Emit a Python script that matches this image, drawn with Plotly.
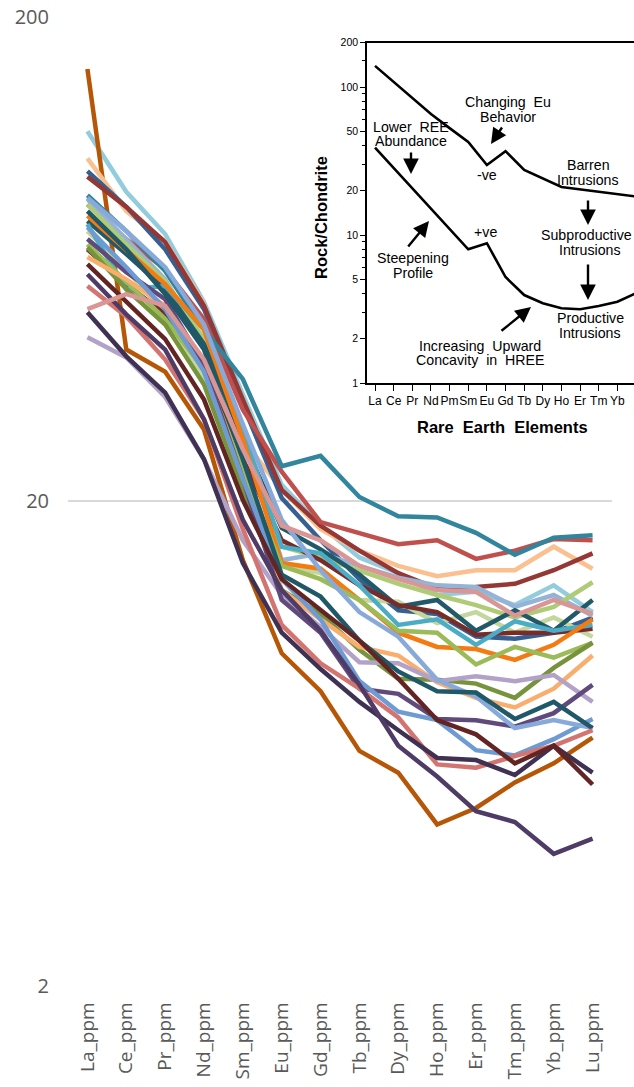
import plotly.graph_objects as go

W, H = 634, 1087

# ---------------- main chart data (ppm) ----------------
elements = ["La_ppm", "Ce_ppm", "Pr_ppm", "Nd_ppm", "Sm_ppm", "Eu_ppm", "Gd_ppm",
            "Tb_ppm", "Dy_ppm", "Ho_ppm", "Er_ppm", "Tm_ppm", "Yb_ppm", "Lu_ppm"]

s02 = [116, 87, 71.2, 51.5, 33.2, 21.6, 17.8, 15.3, 14.2, 12.8, 13.0, 12.2, 13.4, 11.8]
s01 = [156, 41.1, 37.0, 28.1, 15.1, 9.7, 8.1, 6.1, 5.5, 4.3, 4.65, 5.25, 5.75, 6.5]
s03 = [102, 79.4, 68.8, 51.0, 26.8, 21.1, 17.5, 15.8, 14.7, 14.0, 14.4, 14.4, 16.1, 14.5]
s04 = [96, 81, 66.2, 49.8, 31.6, 20.3, 16.6, 13.8, 11.9, 11.7, 10.5, 10.4, 10.7, 11.5]
s05 = [93.5, 81, 68.5, 50.6, 32.4, 21.1, 17.8, 15.8, 14.2, 13.2, 13.3, 13.5, 14.4, 15.6]
s06 = [82, 69.5, 60.2, 47.5, 30.9, 23.0, 18.1, 17.2, 16.3, 16.6, 15.2, 15.8, 16.7, 16.6]
s07 = [85.6, 72.2, 59.7, 45.2, 35.7, 23.6, 24.8, 20.4, 18.6, 18.5, 17.2, 15.5, 16.8, 17.0]
s08 = [84, 69.5, 57.4, 42.2, 26.8, 15.1, 15.6, 14.7, 13.9, 13.4, 13.3, 12.1, 12.8, 11.6]
s09 = [72.2, 60.2, 48.6, 35.7, 23.2, 14.7, 14.2, 12.5, 12.4, 11.2, 11.8, 10.7, 11.5, 10.5]
s10 = [82, 67.8, 56.9, 43.2, 26.8, 16.1, 15.3, 14.4, 13.5, 12.8, 12.2, 11.5, 12.1, 13.6]
s11 = [75.7, 64.7, 54.8, 42.2, 26.8, 17.6, 15.9, 14.1, 12.1, 12.5, 10.8, 11.9, 10.8, 12.5]
s12 = [66.2, 56.1, 48.6, 37.4, 24.4, 16.6, 15.1, 13.4, 12.2, 11.8, 10.6, 10.7, 10.7, 10.9]
s13 = [74.6, 54.8, 55.6, 45.2, 28.1, 16.1, 15.6, 13.4, 11.1, 11.4, 10.1, 11.3, 10.8, 11.1]
s14 = [77.6, 66.2, 56.1, 45.2, 26.8, 14.9, 14.5, 12.5, 10.7, 10.0, 9.9, 9.4, 10.1, 11.4]
s15 = [67.8, 56.6, 47.5, 37.4, 23.2, 14.7, 13.8, 12.5, 10.8, 10.7, 9.2, 10.0, 9.5, 10.2]
s16 = [66.8, 54.8, 46.3, 34.8, 21.1, 13.1, 11.7, 9.86, 8.6, 8.55, 8.4, 7.85, 9.05, 10.2]
s17 = [63.8, 57.4, 50.6, 37.4, 22.2, 13.1, 11.4, 10.0, 9.6, 8.45, 7.85, 7.5, 8.2, 9.6]
s18 = [43.6, 39.6, 32.8, 24.4, 16.6, 12.8, 11.0, 9.3, 9.25, 8.5, 8.7, 8.5, 8.75, 7.7]
s19 = [69.5, 59.4, 52.2, 38.3, 22.2, 12.5, 10.7, 8.2, 8.0, 7.1, 7.06, 6.85, 7.3, 8.35]
s20 = [73.5, 60.8, 49.8, 37.0, 22.2, 13.8, 11.4, 8.5, 7.35, 7.06, 6.12, 5.97, 6.45, 7.1]
s21 = [84.6, 72.2, 60.8, 46.3, 28.8, 18.3, 14.4, 11.8, 10.5, 8.55, 7.9, 6.8, 7.06, 6.8]
s22 = [79.4, 66.2, 53.5, 41.1, 24.4, 14.1, 12.7, 10.3, 8.9, 8.1, 8.05, 7.1, 7.7, 6.8]
s23 = [55.6, 48.1, 39.2, 29.5, 17.5, 11.1, 9.25, 8.2, 7.15, 5.72, 5.63, 5.95, 6.25, 6.73]
s24 = [49.1, 39.8, 33.5, 24.4, 14.9, 10.7, 9.0, 7.7, 6.73, 5.9, 5.84, 5.44, 6.25, 5.5]
s25 = [61.7, 51.5, 43.2, 32.4, 20.1, 13.8, 11.9, 10.3, 8.6, 7.06, 6.6, 5.75, 6.25, 5.2]
s26 = [58.8, 48.6, 41.1, 29.5, 18.3, 13.1, 10.8, 8.35, 6.25, 5.4, 4.58, 4.35, 3.74, 4.02]
s27 = [49.8, 53.5, 50.6, 39.2, 25.6, 17.8, 16.6, 14.7, 13.8, 13.1, 13.0, 11.6, 12.5, 11.7]

series = [
    (s02, "#93CDDD"), (s01, "#B65708"), (s03, "#FAC090"), (s04, "#376092"),
    (s05, "#953735"), (s06, "#C0504D"), (s07, "#31859C"), (s08, "#95B3D7"),
    (s09, "#C3D69B"), (s10, "#AFCB76"), (s11, "#215968"), (s12, "#772C2A"),
    (s13, "#4BACC6"), (s14, "#F47A12"), (s15, "#9BBB59"), (s16, "#77933C"),
    (s17, "#FAAE6E"), (s18, "#B3A2C7"), (s19, "#604A7B"), (s20, "#6E9BD3"),
    (s21, "#88AADA"), (s22, "#205867"), (s23, "#D37471"), (s24, "#3F3151"),
    (s25, "#632523"), (s26, "#4F3C66"), (s27, "#D99694"),
]

# ---------------- inset: schematic REE profiles ----------------
ree_labels = ["La", "Ce", "Pr", "Nd", "Pm", "Sm", "Eu", "Gd", "Tb", "Dy", "Ho", "Er", "Tm", "Yb", "Lu"]
barren_elem = ["La", "Nd", "Pm", "Sm", "Eu", "Gd", "Tb", "Ho", "Lu"]
barren_val = [139, 65.7, 52.8, 42.5, 29.7, 36.9, 27.5, 21.1, 18.2]
productive_elem = ["La", "Sm", "Eu", "Gd", "Tb", "Dy", "Ho", "Er", "Tm", "Yb", "Lu"]
productive_val = [39, 8.0, 8.8, 5.2, 3.93, 3.46, 3.2, 3.15, 3.31, 3.54, 4.05]
inset_ticks = [1, 2, 5, 10, 20, 50, 100, 200]
inset_minor = [3, 4, 6, 7, 8, 9, 30, 40, 60, 70, 80, 90, 150]


def px(x):
    return x / W


def py(y):
    return (H - y) / H


fig = go.Figure()

for vals, col in series:
    fig.add_trace(go.Scatter(
        x=elements, y=vals, mode="lines",
        line=dict(color=col, width=4.5),
        showlegend=False, hoverinfo="skip",
        xaxis="x", yaxis="y",
    ))

for xs, ys in [(barren_elem, barren_val), (productive_elem, productive_val)]:
    fig.add_trace(go.Scatter(
        x=xs, y=ys, mode="lines",
        line=dict(color="black", width=2.6),
        showlegend=False, hoverinfo="skip",
        xaxis="x2", yaxis="y2",
    ))

gray = "#595959"
main_font = "Open Sans"
inset_font = "Liberation Sans"

layout = dict(
    width=W, height=H,
    margin=dict(l=0, r=0, t=0, b=0),
    paper_bgcolor="white", plot_bgcolor="rgba(0,0,0,0)",
    showlegend=False,
    xaxis=dict(
        domain=[px(68), px(612)],
        type="category", categoryorder="array", categoryarray=elements,
        range=[-0.5, 13.5],
        showgrid=False, zeroline=False, showline=False, ticks="",
        tickangle=-90, tickfont=dict(family=main_font, size=19, color=gray),
        ticklabelstandoff=12, automargin=False,
    ),
    yaxis=dict(
        domain=[py(985.5), py(16.7)],
        type="log", range=[0.30103, 2.30103],
        tickmode="array", tickvals=[2, 20, 200], ticktext=["2", "20", "200"],
        showgrid=True, gridcolor="#D9D9D9", gridwidth=1.5,
        zeroline=False, showline=False, ticks="",
        tickfont=dict(family=main_font, size=20, color=gray),
        ticklabelstandoff=18, automargin=False,
    ),
    xaxis2=dict(
        domain=[px(367), 1.0], anchor="y2",
        type="category", categoryorder="array", categoryarray=ree_labels,
        range=[-0.43, 13.89],
        showgrid=False, zeroline=False,
        showline=True, linecolor="black", linewidth=1.6, mirror=True,
        ticks="outside", ticklen=6, tickwidth=1.4, tickcolor="black",
        tickangle=0,
        tickfont=dict(family=inset_font, size=12, color="black"),
        automargin=False,
    ),
    yaxis2=dict(
        domain=[py(383), py(42.5)], anchor="x2",
        type="log", range=[0, 2.30103],
        tickmode="array", tickvals=inset_ticks, ticktext=[str(t) for t in inset_ticks],
        showgrid=False, zeroline=False,
        showline=True, linecolor="black", linewidth=1.6,
        ticks="outside", ticklen=5, tickwidth=1.2, tickcolor="black",
        minor=dict(tickvals=inset_minor, ticks="outside", ticklen=3,
                   tickwidth=1, tickcolor="black"),
        tickfont=dict(family=inset_font, size=10.5, color="black"),
        automargin=False,
    ),
)

annotations = []

# inset axis titles
annotations.append(dict(
    x=px(503), y=py(427), xref="paper", yref="paper",
    text="<b>Rare\u00a0\u00a0Earth\u00a0\u00a0Elements</b>", showarrow=False,
    font=dict(family=inset_font, size=16.5, color="black"),
    xanchor="center", yanchor="middle",
))
annotations.append(dict(
    x=px(321), y=py(218), xref="paper", yref="paper",
    text="<b>Rock/Chondrite</b>", showarrow=False, textangle=-90,
    font=dict(family=inset_font, size=16.5, color="black"),
    xanchor="center", yanchor="middle",
))

# inset labels
inset_labels = [
    ("Changing\u00a0\u00a0Eu", 508, 102),
    ("Behavior", 508, 117),
    ("Lower\u00a0\u00a0REE", 411, 127),
    ("Abundance", 411, 141),
    ("-ve", 487, 175),
    ("Barren", 588, 165),
    ("Intrusions", 588, 180),
    ("+ve", 485, 232),
    ("Subproductive", 586, 235),
    ("Intrusions", 590, 250),
    ("Productive", 590, 318),
    ("Intrusions", 590, 333),
    ("Steepening", 413, 258),
    ("Profile", 413, 273),
    ("Increasing\u00a0\u00a0Upward", 480, 346),
    ("Concavity\u00a0\u00a0in\u00a0\u00a0HREE", 480, 360),
]
for txt, x, y in inset_labels:
    annotations.append(dict(
        x=px(x), y=py(y), xref="paper", yref="paper", text=txt,
        showarrow=False, xanchor="center", yanchor="middle",
        font=dict(family=inset_font, size=14.2, color="black"),
    ))

# inset arrows: (tail x, tail y, head x, head y)
arrows = [
    (503, 126, 491, 144),
    (411, 151, 411, 174),
    (588, 199, 588, 225),
    (588, 263, 588, 300),
    (407, 248, 429, 221),
    (500, 332, 531, 307),
]
for tx, ty, hx, hy in arrows:
    annotations.append(dict(
        x=px(hx), y=py(hy), xref="paper", yref="paper",
        ax=tx - hx, ay=ty - hy, axref="pixel", ayref="pixel",
        text="", showarrow=True, arrowhead=2, arrowsize=1.3,
        arrowwidth=2.4, arrowcolor="black",
    ))

layout["annotations"] = annotations
fig.update_layout(**layout)

fig.write_html("out.html")
